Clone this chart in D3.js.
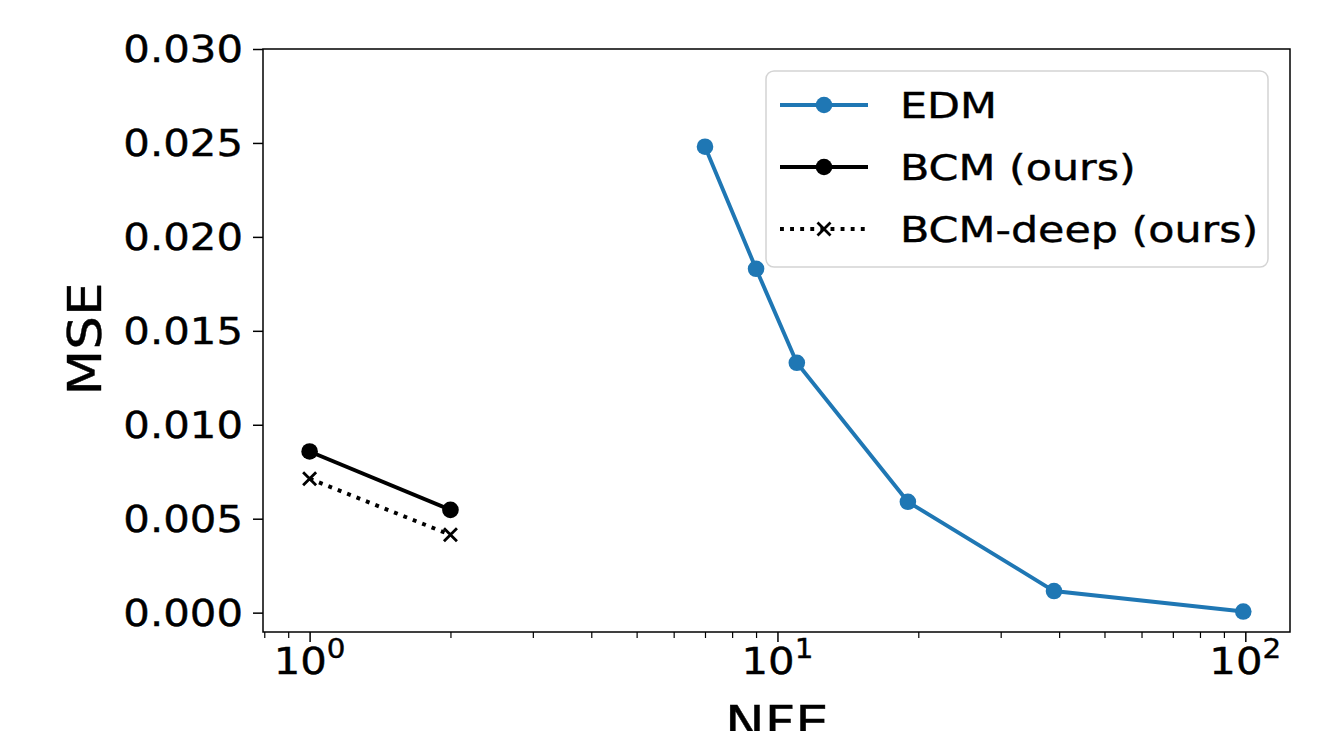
<!DOCTYPE html>
<html>
<head>
<meta charset="utf-8">
<script src="https://cdn.jsdelivr.net/npm/d3@7"></script>
<style>
  body { margin: 0; background: #fff; }
  svg { display: block; font-family: "DejaVu Sans", sans-serif; }
  text { stroke: #000; stroke-width: 0.4; }
</style>
</head>
<body>
<svg class="chart"></svg>
<script>
// series
const edmNfe = [7, 9, 11, 19, 39, 99]
const edmMse = [0.0248, 0.0183, 0.0133, 0.0059, 0.00115, 0.00006]
const bcmNfe = [1, 2]
const bcmMse = [0.00858, 0.00547]
const deepNfe = [1, 2]
const deepMse = [0.00713, 0.00414]

// tick labels
const yTicks = [0, 0.005, 0.010, 0.015, 0.020, 0.025, 0.030]
const xMajor = [1, 10, 100]
const xMajorExp = ['0', '1', '2']
const xMinor = [0.8, 0.9, 2, 3, 4, 5, 6, 7, 8, 9, 20, 30, 40, 50, 60, 70, 80, 90]
const legendNames = ['EDM', 'BCM (ours)', 'BCM-deep (ours)']

const W = 1342, H = 731
const box = { left: 263, right: 1290, top: 49, bottom: 632 }
const blue = '#1f77b4'
const sx = 1.13 // glyphs in the reference are a bit wider than plain DejaVu
const lw = 3.9

const svg = d3.select('.chart')
  .attr('width', W)
  .attr('height', H)

const x = d3.scaleLog()
  .domain([0.795, 124.6])
  .range([box.left, box.right])

const y = d3.scaleLinear()
  .domain([-0.00103, 0.030])
  .range([box.bottom, box.top])

const toPts = (xs, ys) => xs.map((v, i) => [v, ys[i]])

// axes
svg.append('g')
  .attr('transform', `translate(${box.left},0)`)
  .call(d3.axisLeft(y).tickValues(yTicks).tickSize(10).tickFormat(''))
  .call(g => g.select('.domain').remove())
  .call(g => g.selectAll('line').attr('stroke', '#000').attr('stroke-width', 1.5))

svg.append('g')
  .attr('transform', `translate(0,${box.bottom})`)
  .call(d3.axisBottom(x).tickValues(xMajor).tickSize(10).tickFormat(''))
  .call(g => g.select('.domain').remove())
  .call(g => g.selectAll('line').attr('stroke', '#000').attr('stroke-width', 1.5))

svg.append('g')
  .attr('transform', `translate(0,${box.bottom})`)
  .call(d3.axisBottom(x).tickValues(xMinor).tickSize(6).tickFormat(''))
  .call(g => g.select('.domain').remove())
  .call(g => g.selectAll('line').attr('stroke', '#000').attr('stroke-width', 1.2))

// frame
svg.append('rect')
  .attr('x', box.left)
  .attr('y', box.top)
  .attr('width', box.right - box.left)
  .attr('height', box.bottom - box.top)
  .attr('fill', 'none')
  .attr('stroke', '#000')
  .attr('stroke-width', 1.5)

// y tick labels
svg.append('g').selectAll('text')
  .data(yTicks)
  .enter()
  .append('text')
  .attr('transform', d => `translate(243,${y(d)}) scale(${sx},1)`)
  .attr('dy', '0.36em')
  .attr('text-anchor', 'end')
  .attr('font-size', 37)
  .text(d => d3.format('.3f')(d))

// x tick labels, 10^n
const xl = svg.append('g').selectAll('text')
  .data(xMajor)
  .enter()
  .append('text')
  .attr('transform', d => `translate(${x(d)},674) scale(${sx},1)`)
  .attr('text-anchor', 'middle')
  .attr('font-size', 37)
xl.append('tspan').text('10')
xl.append('tspan')
  .attr('dy', -16)
  .attr('font-size', 26)
  .text((d, i) => xMajorExp[i])

// axis titles
svg.append('text')
  .attr('transform', `translate(101,339) rotate(-90) scale(${sx},1)`)
  .attr('text-anchor', 'middle')
  .attr('font-size', 47)
  .text('MSE')

svg.append('text')
  .attr('transform', `translate(777,739) scale(${sx},1)`)
  .attr('text-anchor', 'middle')
  .attr('font-size', 47)
  .text('NFE')

// lines
const line = d3.line()
  .x(d => x(d[0]))
  .y(d => y(d[1]))

const plot = svg.append('g')

plot.append('path')
  .datum(toPts(edmNfe, edmMse))
  .attr('d', line)
  .attr('fill', 'none')
  .attr('stroke', blue)
  .attr('stroke-width', lw)

plot.selectAll('.edm')
  .data(toPts(edmNfe, edmMse))
  .enter()
  .append('circle')
  .attr('cx', d => x(d[0]))
  .attr('cy', d => y(d[1]))
  .attr('r', 8.3)
  .attr('fill', blue)

plot.append('path')
  .datum(toPts(bcmNfe, bcmMse))
  .attr('d', line)
  .attr('fill', 'none')
  .attr('stroke', '#000')
  .attr('stroke-width', lw)

plot.selectAll('.bcm')
  .data(toPts(bcmNfe, bcmMse))
  .enter()
  .append('circle')
  .attr('cx', d => x(d[0]))
  .attr('cy', d => y(d[1]))
  .attr('r', 8.3)
  .attr('fill', '#000')

plot.append('path')
  .datum(toPts(deepNfe, deepMse))
  .attr('d', line)
  .attr('fill', 'none')
  .attr('stroke', '#000')
  .attr('stroke-width', lw)
  .attr('stroke-dasharray', '3.9,6.2')

function cross(g, cx, cy) {
  const s = 6.5
  g.append('path')
    .attr('d', `M${cx - s},${cy - s}L${cx + s},${cy + s}M${cx - s},${cy + s}L${cx + s},${cy - s}`)
    .attr('stroke', '#000')
    .attr('stroke-width', 2.8)
    .attr('fill', 'none')
}
toPts(deepNfe, deepMse).forEach(d => cross(plot, x(d[0]), y(d[1])))

// legend
const leg = svg.append('g')
leg.append('rect')
  .attr('x', 766)
  .attr('y', 71)
  .attr('width', 502)
  .attr('height', 196)
  .attr('rx', 8)
  .attr('fill', '#fff')
  .attr('fill-opacity', 0.8)
  .attr('stroke', '#d4d4d4')
  .attr('stroke-width', 1.5)

const rowY = [105, 167, 229]
const lx0 = 780, lx1 = 868, lxm = 824

leg.append('line').attr('x1', lx0).attr('x2', lx1).attr('y1', rowY[0]).attr('y2', rowY[0])
  .attr('stroke', blue).attr('stroke-width', lw)
leg.append('circle').attr('cx', lxm).attr('cy', rowY[0]).attr('r', 8.3).attr('fill', blue)

leg.append('line').attr('x1', lx0).attr('x2', lx1).attr('y1', rowY[1]).attr('y2', rowY[1])
  .attr('stroke', '#000').attr('stroke-width', lw)
leg.append('circle').attr('cx', lxm).attr('cy', rowY[1]).attr('r', 8.3).attr('fill', '#000')

leg.append('line').attr('x1', lx0).attr('x2', lx1).attr('y1', rowY[2]).attr('y2', rowY[2])
  .attr('stroke', '#000').attr('stroke-width', lw).attr('stroke-dasharray', '3.9,6.2')
cross(leg, lxm, rowY[2])

leg.selectAll('text')
  .data(legendNames)
  .enter()
  .append('text')
  .attr('transform', (d, i) => `translate(900,${rowY[i]}) scale(1.19,1)`)
  .attr('dy', '0.36em')
  .attr('font-size', 36)
  .text(d => d)
</script>
</body>
</html>
